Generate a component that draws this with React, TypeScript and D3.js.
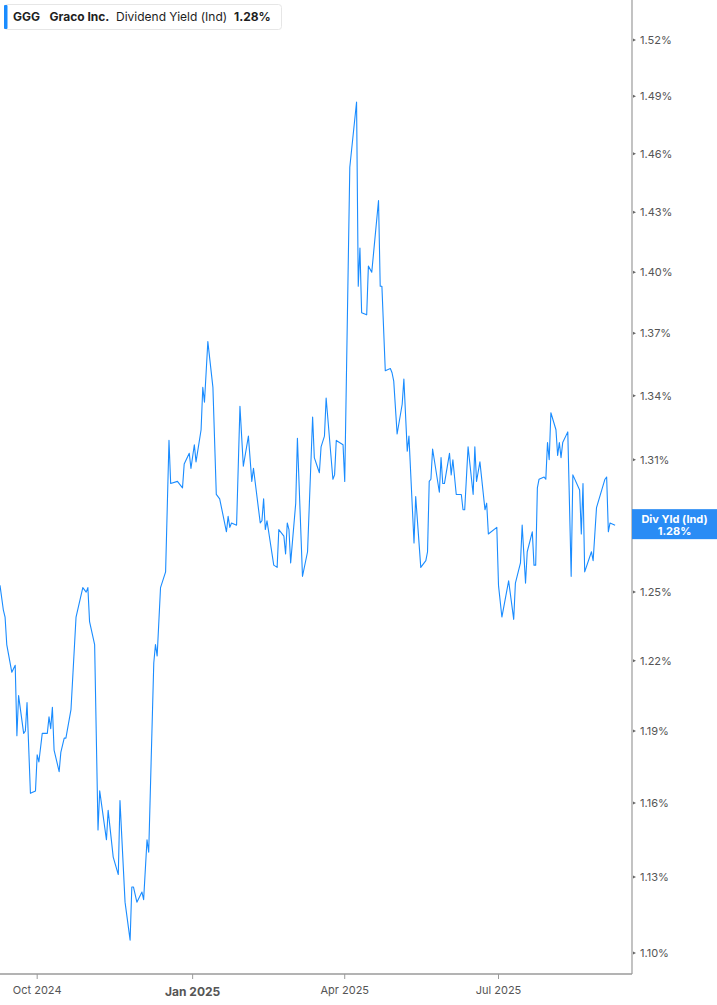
import * as d3 from "d3";

// GGG dividend yield (indicated)
const dates: string[] = [
  "2024-09-09", "2024-09-11", "2024-09-12", "2024-09-13", "2024-09-16", "2024-09-18", "2024-09-19", "2024-09-20",
  "2024-09-23", "2024-09-24", "2024-09-25", "2024-09-27", "2024-09-30", "2024-10-01", "2024-10-02", "2024-10-04",
  "2024-10-07", "2024-10-08", "2024-10-09", "2024-10-10", "2024-10-11", "2024-10-14", "2024-10-15", "2024-10-17",
  "2024-10-18", "2024-10-21", "2024-10-24", "2024-10-28", "2024-10-30", "2024-10-31", "2024-11-01", "2024-11-04",
  "2024-11-06", "2024-11-07", "2024-11-11", "2024-11-12", "2024-11-15", "2024-11-18", "2024-11-19", "2024-11-22",
  "2024-11-25", "2024-11-26", "2024-11-27", "2024-11-29", "2024-12-02", "2024-12-03", "2024-12-05", "2024-12-06",
  "2024-12-09", "2024-12-10", "2024-12-11", "2024-12-13", "2024-12-16", "2024-12-18", "2024-12-19", "2024-12-23",
  "2024-12-26", "2024-12-27", "2024-12-30", "2024-12-31", "2025-01-02", "2025-01-03", "2025-01-06", "2025-01-07",
  "2025-01-08", "2025-01-10", "2025-01-13", "2025-01-15", "2025-01-17", "2025-01-21", "2025-01-22", "2025-01-23",
  "2025-01-24", "2025-01-27", "2025-01-29", "2025-01-31", "2025-02-03", "2025-02-05", "2025-02-06", "2025-02-10",
  "2025-02-11", "2025-02-12", "2025-02-13", "2025-02-14", "2025-02-18", "2025-02-20", "2025-02-21", "2025-02-24",
  "2025-02-25", "2025-02-26", "2025-02-27", "2025-02-28", "2025-03-03", "2025-03-04", "2025-03-07", "2025-03-10",
  "2025-03-13", "2025-03-14", "2025-03-17", "2025-03-18", "2025-03-20", "2025-03-21", "2025-03-25", "2025-03-26",
  "2025-03-27", "2025-03-31", "2025-04-01", "2025-04-04", "2025-04-08", "2025-04-09", "2025-04-10", "2025-04-11",
  "2025-04-14", "2025-04-15", "2025-04-17", "2025-04-21", "2025-04-22", "2025-04-23", "2025-04-25", "2025-04-28",
  "2025-04-29", "2025-04-30", "2025-05-02", "2025-05-05", "2025-05-06", "2025-05-08", "2025-05-09", "2025-05-12",
  "2025-05-13", "2025-05-16", "2025-05-19", "2025-05-20", "2025-05-21", "2025-05-22", "2025-05-23", "2025-05-27",
  "2025-05-28", "2025-05-29", "2025-05-30", "2025-06-02", "2025-06-03", "2025-06-04", "2025-06-06", "2025-06-09",
  "2025-06-10", "2025-06-11", "2025-06-13", "2025-06-16", "2025-06-17", "2025-06-18", "2025-06-20", "2025-06-23",
  "2025-06-24", "2025-06-25", "2025-06-30", "2025-07-01", "2025-07-03", "2025-07-07", "2025-07-10", "2025-07-11",
  "2025-07-14", "2025-07-15", "2025-07-17", "2025-07-18", "2025-07-21", "2025-07-22", "2025-07-23", "2025-07-24",
  "2025-07-25", "2025-07-28", "2025-07-29", "2025-07-30", "2025-07-31", "2025-08-01", "2025-08-04", "2025-08-05",
  "2025-08-06", "2025-08-07", "2025-08-08", "2025-08-11", "2025-08-13", "2025-08-14", "2025-08-18", "2025-08-19",
  "2025-08-20", "2025-08-21", "2025-08-25", "2025-08-26", "2025-08-28", "2025-09-02", "2025-09-03", "2025-09-04",
  "2025-09-05", "2025-09-08",
];

const yields: number[] = [
  1.253, 1.242, 1.239, 1.227, 1.215, 1.218, 1.188, 1.205,
  1.189, 1.190, 1.202, 1.164, 1.165, 1.180, 1.177, 1.189,
  1.189, 1.196, 1.191, 1.200, 1.182, 1.173, 1.181, 1.187,
  1.187, 1.199, 1.239, 1.252, 1.250, 1.252, 1.237, 1.227,
  1.149, 1.165, 1.145, 1.157, 1.138, 1.131, 1.161, 1.120,
  1.105, 1.126, 1.126, 1.120, 1.124, 1.121, 1.145, 1.140,
  1.219, 1.227, 1.222, 1.252, 1.259, 1.319, 1.299, 1.300,
  1.297, 1.308, 1.313, 1.306, 1.317, 1.309, 1.324, 1.344,
  1.337, 1.366, 1.344, 1.294, 1.292, 1.277, 1.284, 1.279,
  1.281, 1.280, 1.335, 1.307, 1.321, 1.300, 1.306, 1.281,
  1.282, 1.292, 1.278, 1.282, 1.262, 1.261, 1.278, 1.275,
  1.267, 1.281, 1.278, 1.263, 1.290, 1.320, 1.257, 1.268,
  1.330, 1.311, 1.304, 1.316, 1.321, 1.339, 1.301, 1.303,
  1.319, 1.317, 1.300, 1.453, 1.487, 1.393, 1.412, 1.380,
  1.379, 1.403, 1.400, 1.436, 1.393, 1.393, 1.352, 1.353,
  1.351, 1.347, 1.322, 1.336, 1.348, 1.314, 1.321, 1.272,
  1.293, 1.261, 1.264, 1.268, 1.300, 1.301, 1.315, 1.295,
  1.311, 1.299, 1.299, 1.313, 1.303, 1.310, 1.294, 1.294,
  1.287, 1.287, 1.316, 1.294, 1.316, 1.300, 1.309, 1.287,
  1.290, 1.276, 1.279, 1.253, 1.239, 1.255, 1.238, 1.254,
  1.263, 1.280, 1.254, 1.268, 1.277, 1.262, 1.262, 1.297,
  1.301, 1.302, 1.301, 1.318, 1.310, 1.332, 1.324, 1.312,
  1.318, 1.311, 1.318, 1.323, 1.257, 1.303, 1.296, 1.276,
  1.299, 1.259, 1.268, 1.264, 1.288, 1.301, 1.302, 1.277,
  1.281, 1.280,
];

// 1.28% sits under the last-value tag, so it is not labelled
const yTicks: number[] = [1.10, 1.13, 1.16, 1.19, 1.22, 1.25, 1.28, 1.31, 1.34, 1.37, 1.40, 1.43, 1.46, 1.49, 1.52];
const xTickDates: string[] = ["2024-10-01", "2025-01-01", "2025-04-01", "2025-07-01"];
const xTickLabels: string[] = ["Oct 2024", "Jan 2025", "Apr 2025", "Jul 2025"];
const xDomain: string[] = ["2024-09-09", "2025-09-18"];

const lastValue = yields[yields.length - 1];

const W = 717;
const H = 1005;
const plotRight = 632;
const plotBottom = 974;
const FONT = "Inter, 'DejaVu Sans', sans-serif";
const BLUE = "#1a8cff";

export default function App() {
  const parse = d3.utcParse("%Y-%m-%d");
  const points = dates.map((d, i) => ({ date: parse(d) as Date, value: yields[i] }));

  const xScale = d3.scaleUtc()
    .domain(xDomain.map(d => parse(d) as Date))
    .range([0, plotRight]);

  // log scale: tick spacing widens toward the bottom
  const yScale = d3.scaleLog()
    .domain([1.10, 1.52])
    .range([953, 40]);

  const line = d3.line<{ date: Date; value: number }>()
    .x(d => xScale(d.date))
    .y(d => yScale(d.value));

  const fmt = (v: number) => v.toFixed(2) + "%";
  const lastY = yScale(lastValue);
  const hidden = (t: number) => Math.abs(yScale(t) - lastY) < 16;

  return (
    <svg width={W} height={H} style={{ position: "absolute", left: 0, top: 0, background: "#fff" }}
      fontFamily={FONT}>
      <rect x={0} y={0} width={W} height={H} fill="#fff" />

      {/* series */}
      <path d={line(points) || ""} fill="none" stroke={BLUE} strokeWidth={1.1} strokeLinejoin="round" />

      {/* right axis */}
      <line x1={plotRight} x2={plotRight} y1={0} y2={plotBottom} stroke="#9a9a9a" strokeWidth={1.2} />
      {yTicks.map(t => (
        <g key={t} transform={`translate(${plotRight},${yScale(t)})`}>
          <path d="M1,-1.5 L4,0 L1,1.5 Z" fill="#666" />
          {!hidden(t) && <text x={8} dy="0.35em" fontSize={11} fill="#555">{fmt(t)}</text>}
        </g>
      ))}

      {/* bottom axis */}
      <line x1={0} x2={plotRight} y1={plotBottom} y2={plotBottom} stroke="#9a9a9a" strokeWidth={1.5} />
      {xTickDates.map((d, i) => {
        const x = xScale(parse(d) as Date);
        const bold = xTickLabels[i].startsWith("Jan");
        return (
          <g key={d} transform={`translate(${x},${plotBottom})`}>
            <line y1={0} y2={5} stroke="#9a9a9a" />
            <text y={bold ? 22 : 20} textAnchor="middle" fontSize={bold ? 12 : 11}
              fontWeight={bold ? 700 : 400} fill="#555">{xTickLabels[i]}</text>
          </g>
        );
      })}

      {/* last value tag */}
      <g transform={`translate(${plotRight},${lastY})`}>
        <rect x={0} y={-16} width={W - plotRight} height={30} fill="#2a8cf5" />
        <text x={(W - plotRight) / 2} y={-2} textAnchor="middle" fontSize={11} fontWeight={700} fill="#fff">Div Yld (Ind)</text>
        <text x={(W - plotRight) / 2} y={10} textAnchor="middle" fontSize={11} fontWeight={700} fill="#fff">{fmt(lastValue)}</text>
      </g>

      {/* legend */}
      <g>
        <rect x={4.5} y={4.5} width={277} height={25} rx={3} fill="#fff" stroke="#e6e6e6" />
        <rect x={4} y={5} width={3.5} height={24} rx={1} fill={BLUE} />
        <text x={13} y={21} fontSize={12} fontWeight={700} fill="#1e1e1e">GGG</text>
        <text x={49.5} y={21} fontSize={12} fontWeight={700} fill="#1e1e1e">Graco Inc.</text>
        <text x={116} y={21} fontSize={12} fill="#1e1e1e">Dividend Yield (Ind)</text>
        <text x={234} y={21} fontSize={12} fontWeight={700} fill="#1e1e1e">{fmt(lastValue)}</text>
      </g>
    </svg>
  );
}
